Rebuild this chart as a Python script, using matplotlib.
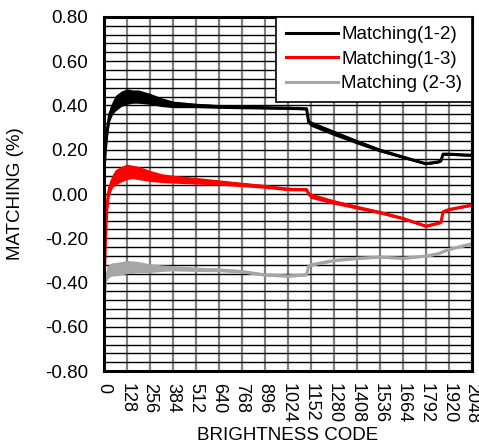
import numpy as np
import matplotlib
matplotlib.use("Agg")
import matplotlib.pyplot as plt

plt.rcParams['font.family'] = ['Liberation Sans', 'DejaVu Sans']

codes = [0, 8, 16, 24, 32, 48, 64, 96, 128, 160, 192, 256, 320, 384, 512, 640,
         768, 896, 1024, 1128, 1140, 1152, 1280, 1408, 1536, 1664, 1792, 1860,
         1876, 1888, 1920, 2048]

match_12 = [0.10, 0.20, 0.27, 0.32, 0.36, 0.39, 0.41, 0.43, 0.44, 0.44, 0.44, 0.43,
            0.415, 0.405, 0.40, 0.395, 0.392, 0.39, 0.388, 0.385, 0.325, 0.318,
            0.276, 0.236, 0.198, 0.167, 0.137, 0.145, 0.15, 0.18, 0.18, 0.175]
match_13 = [-0.42, -0.22, -0.07, 0.0, 0.03, 0.06, 0.075, 0.09, 0.10, 0.10, 0.095,
            0.082, 0.072, 0.067, 0.06, 0.052, 0.043, 0.034, 0.022, 0.02, 0.0,
            -0.008, -0.036, -0.06, -0.083, -0.11, -0.145, -0.132, -0.128, -0.08,
            -0.07, -0.05]
match_23 = [-0.50, -0.40, -0.36, -0.35, -0.345, -0.34, -0.34, -0.335, -0.33, -0.33,
            -0.33, -0.335, -0.335, -0.335, -0.34, -0.343, -0.35, -0.365, -0.37,
            -0.365, -0.325, -0.32, -0.30, -0.29, -0.285, -0.29, -0.28, -0.27,
            -0.265, -0.26, -0.25, -0.225]

# noise band half-width of each trace
spread_12 = [0.01, 0.02, 0.03, 0.03, 0.03, 0.03, 0.035, 0.035, 0.035, 0.03, 0.03,
             0.025, 0.02, 0.015, 0.01, 0.008, 0.007, 0.006, 0.006, 0.005, 0.01,
             0.012, 0.012, 0.01, 0.008, 0.006, 0.005, 0.005, 0.005, 0.005, 0.005,
             0.005]
spread_13 = [0.01, 0.02, 0.03, 0.03, 0.03, 0.03, 0.035, 0.035, 0.035, 0.03, 0.03,
             0.025, 0.02, 0.018, 0.015, 0.012, 0.01, 0.008, 0.007, 0.006, 0.01,
             0.012, 0.01, 0.008, 0.007, 0.006, 0.005, 0.005, 0.005, 0.005, 0.005,
             0.005]
spread_23 = [0.01, 0.02, 0.03, 0.03, 0.03, 0.03, 0.03, 0.03, 0.03, 0.028, 0.025,
             0.02, 0.015, 0.012, 0.01, 0.008, 0.007, 0.006, 0.006, 0.005, 0.006,
             0.006, 0.006, 0.006, 0.005, 0.005, 0.005, 0.005, 0.005, 0.005, 0.005,
             0.005]

series = [
    ("Matching(1-2)", match_12, spread_12, "black"),
    ("Matching(1-3)", match_13, spread_13, "#ff0000"),
    ("Matching (2-3)", match_23, spread_23, "#a6a6a6"),
]

y_major = np.round(np.arange(-0.8, 0.81, 0.2), 2) + 0.0
y_minor = np.round(np.arange(-0.8, 0.81, 0.04), 2)

fig = plt.figure(figsize=(4.79, 4.45), dpi=100)
ax = fig.add_axes([0.217, 0.166, 0.768, 0.796])

x = np.array(codes)
for label, vals, spread, color in series:
    v = np.array(vals)
    s = np.array(spread)
    ax.fill_between(x, v - s, v + s, color=color, lw=0, zorder=3)
    ax.plot(x, v, color=color, lw=2.2, label=label, zorder=3)

ax.set_xlim(0, 2048)
ax.set_ylim(-0.8, 0.8)
ax.set_xticks(np.arange(0, 2049, 128))
ax.set_yticks(y_major)
ax.set_yticks(y_minor, minor=True)
ax.set_yticklabels([f"{abs(t):.2f}" if abs(t) < 1e-9 else f"{t:.2f}" for t in y_major])
ax.tick_params(axis='x', labelrotation=270, labelsize=13, length=0, pad=8.5)
ax.tick_params(axis='y', labelsize=13.5, length=0, pad=11.5)
ax.tick_params(which='minor', length=0)

ax.grid(True, axis='x', color='#808080', lw=1.6, zorder=1)
ax.grid(True, axis='y', which='both', color='black', lw=1.0, zorder=1)
ax.set_axisbelow(True)

for sp in ax.spines.values():
    sp.set_linewidth(2.2)
    sp.set_zorder(5)

ax.set_xlabel("BRIGHTNESS CODE", fontsize=13.5, labelpad=3)
ax.set_ylabel("MATCHING (%)", fontsize=13.5, labelpad=15)

leg = ax.legend(loc='upper right', fontsize=13.5, fancybox=False, framealpha=1,
                edgecolor='black', borderaxespad=0, handlelength=2.77,
                handletextpad=0.21, labelspacing=0.39, borderpad=0.5)
leg.get_frame().set_linewidth(1.2)
leg.set_zorder(6)

fig.savefig("out.png", dpi=100)
